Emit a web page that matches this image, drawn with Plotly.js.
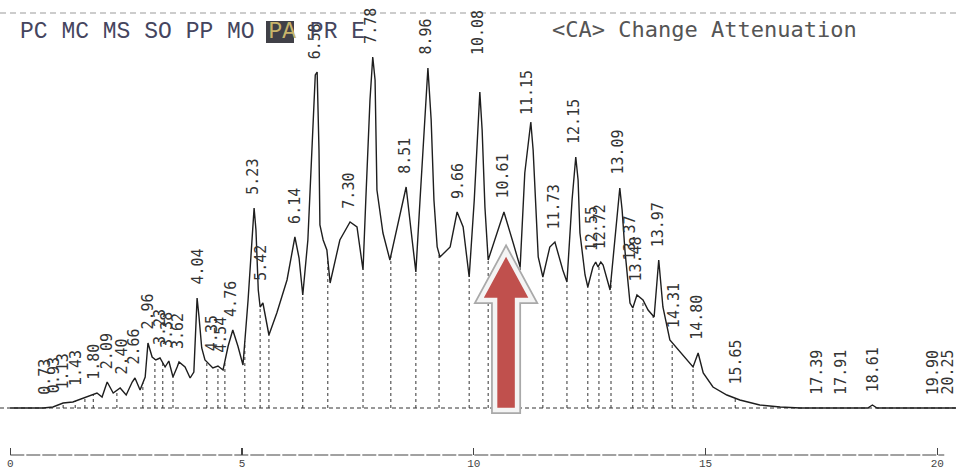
<!DOCTYPE html>
<html><head><meta charset="utf-8">
<script src="https://cdn.plot.ly/plotly-3.0.1.min.js"></script>
<style>html,body{margin:0;padding:0;background:#fff;} #chart{width:956px;height:470px;}</style>
</head><body><div id="chart"></div>
<script>
// ---- data (retention time in minutes, detector signal) ----
const sigTime = [0.00,0.71,0.92,1.14,1.35,1.57,1.72,1.87,1.98,2.09,2.22,2.37,2.50,2.63,2.69,2.80,2.91,2.97,3.06,3.14,3.23,3.34,3.42,3.51,3.60,3.64,3.77,3.88,3.96,
4.03,4.07,4.13,4.20,4.37,4.48,4.59,4.70,4.80,4.91,5.02,5.13,5.22,5.26,5.30,5.35,5.39,5.45,5.58,5.75,5.97,6.14,6.23,6.31,6.42,6.51,6.58,6.62,6.66,6.68,6.75,6.83,6.90,
7.11,7.33,7.48,7.61,7.67,7.76,7.82,7.87,7.91,8.04,8.19,8.41,8.54,8.67,8.75,8.84,8.95,9.01,9.08,9.14,9.21,9.27,9.49,9.64,9.77,9.90,
10.01,10.09,10.13,10.18,10.24,10.31,10.50,10.65,10.85,11.00,11.10,11.19,11.23,11.28,11.32,11.39,11.49,11.64,11.75,11.92,12.01,12.12,12.20,12.25,12.29,12.40,12.46,
12.57,12.63,12.68,12.74,12.79,12.94,13.09,13.15,13.20,13.26,13.37,13.43,13.52,13.65,13.76,13.89,13.99,14.08,14.23,14.38,14.60,14.73,14.84,14.95,15.16,15.46,15.74,
16.17,16.61,17.04,18.50,18.60,18.70,20.40];
const sigValue = [0,0,1,5,6,10,13,15,11,26,15,20,13,26,30,18,31,65,51,48,50,41,47,31,41,46,41,30,36,
110,92,60,48,40,42,38,62,78,62,43,108,178,200,178,118,101,105,73,95,128,171,150,113,168,268,333,336,258,183,168,158,125,
168,186,181,138,208,308,351,328,218,175,148,195,221,168,136,208,288,340,288,208,161,151,161,196,181,131,
208,288,316,278,201,148,175,196,165,141,235,273,286,258,218,151,131,161,166,138,126,208,251,228,175,133,121,
141,146,141,146,143,118,191,220,198,158,105,100,113,108,98,91,148,101,68,60,48,41,55,35,21,13,8,
3,1,0,0,3,0,0];
const peakLabels = ["0.73","0.93","1.13","1.43","1.80","2.09","2.40","2.66","2.96","3.23","3.38","3.62",
"4.04","4.35","4.54","4.76","5.23","5.42","6.14","6.58","7.30","7.78","8.51","8.96","9.66","10.08","10.61",
"11.15","11.73","12.15","12.55","12.72","13.09","13.37","13.48","13.97","14.31","14.80","15.65","17.39","17.91","18.61","19.90","20.25"];
const dropTimes = [1.14,1.40,1.61,1.79,2.30,2.86,3.12,3.29,3.51,4.24,4.48,4.63,5.06,5.39,5.58,6.31,6.85,7.61,8.21,8.75,9.25,9.90,10.31,11.00,
11.49,12.01,12.46,12.70,12.96,13.43,13.65,13.87,14.28,14.73,15.64];
const axisTicks = [0,5,10,15,20];
const headerLeft = 'PC MC MS SO PP MO <span style="color:#c8b46a">PA</span> PR E';
const headerRight = '&lt;CA&gt; Change Attenuation';
const arrowTarget = 10.61;

// ---- helpers ----
const PXU = 46.35, X0PX = 10.3, BASEPX = 408, W = 956;
function interp(t){
  if (t <= sigTime[0]) return sigValue[0];
  for (let i=1;i<sigTime.length;i++){
    if (t <= sigTime[i]){
      const f=(t-sigTime[i-1])/(sigTime[i]-sigTime[i-1]);
      return sigValue[i-1]+f*(sigValue[i]-sigValue[i-1]);
    }
  }
  return sigValue[sigValue.length-1];
}
function localMax(t,w){
  let m=Math.max(interp(t-w),interp(t+w),interp(t));
  for (let i=0;i<sigTime.length;i++) if (sigTime[i]>=t-w && sigTime[i]<=t+w) m=Math.max(m,sigValue[i]);
  return m;
}

// ---- traces ----
const dx=[], dy=[];
dropTimes.forEach(t=>{dx.push(t,t,null); dy.push(0,interp(t),null);});
const traces = [
  {x:dx, y:dy, mode:'lines', line:{color:'#333', width:1, dash:'dot'}, hoverinfo:'skip'},
  {x:sigTime, y:sigValue, mode:'lines', line:{color:'#1e1e1e', width:1.4}, hoverinfo:'skip'}
];

// ---- annotations ----
const labelLift = {"10.08":24};
const annotations = peakLabels.map(s=>{
  const t=parseFloat(s);
  const px = X0PX + t*PXU;
  const overflow = Math.max(0, px + 9 - W);
  return {x:t, y:localMax(t,0.06)+11+(labelLift[s]||0), xref:'x', yref:'y', text:s, textangle:-90,
    showarrow:false, xanchor:'center', yanchor:'bottom', xshift:-overflow,
    font:{family:'DejaVu Sans Mono', size:15, color:'#333'}};
});
annotations.push({xref:'paper', yref:'paper', x:18/956, y:1-32/455, xanchor:'left', yanchor:'middle', text:headerLeft,
  showarrow:false, font:{family:'Liberation Mono', size:23, color:'#45455e'}});
annotations.push({xref:'paper', yref:'paper', x:550/956, y:1-30/455, xanchor:'left', yanchor:'middle', text:headerRight,
  showarrow:false, font:{family:'DejaVu Sans Mono', size:22, color:'#555'}});

// ---- arrow shape (pointing at the 10.61 peak) ----
function arrowPath(){
  const cx = arrowTarget + 4/PXU;
  const u = v => v/PXU;
  const tipY = BASEPX-252, headY = BASEPX-300, botY = BASEPX-410;
  const pts = [[cx,tipY],[cx+u(26),headY],[cx+u(11),headY],[cx+u(11),botY],[cx-u(11),botY],[cx-u(11),headY],[cx-u(26),headY]];
  return 'M'+pts.map(p=>p[0].toFixed(4)+','+p[1].toFixed(2)).join(' L')+' Z';
}
const shapes = [
  {type:'line', xref:'paper', yref:'y', x0:0, x1:1, y0:0, y1:0, line:{color:'#333', width:1, dash:'4px,3px'}, layer:'below'},
  {type:'line', xref:'x', yref:'paper', x0:0, x1:20.15, y0:0, y1:0, line:{color:'#444', width:1.2, dash:'14px,2px'}},
  {type:'line', xref:'paper', yref:'paper', x0:0, x1:1, y0:1-13/455, y1:1-13/455, line:{color:'#999', width:1, dash:'6px,4px'}},
  {type:'rect', xref:'paper', yref:'paper', x0:266/956, x1:294/956, y0:1-43/455, y1:1-21/455, fillcolor:'#2b2b33', line:{width:0}, opacity:0.9},
  {type:'path', xref:'x', yref:'y', path:arrowPath(), fillcolor:'#c0504d', line:{color:'#a9a9a9', width:8}},
  {type:'path', xref:'x', yref:'y', path:arrowPath(), fillcolor:'#c0504d', line:{color:'#f4f4f4', width:4.5}}
];

const layout = {
  width:956, height:470, margin:{l:0,r:0,t:0,b:15,pad:0},
  paper_bgcolor:'#ffffff', plot_bgcolor:'#ffffff', showlegend:false,
  xaxis:{range:[-X0PX/PXU,(W-X0PX)/PXU], showgrid:false, zeroline:false, showline:false,
    tickvals:axisTicks, ticktext:axisTicks.map(String), ticks:'inside', ticklen:7, tickwidth:1.2, tickcolor:'#444',
    tickfont:{family:'Liberation Mono', size:11, color:'#444'}, fixedrange:true},
  yaxis:{range:[-(455-BASEPX), BASEPX], visible:false, fixedrange:true},
  annotations:annotations, shapes:shapes
};
Plotly.newPlot('chart', traces, layout, {displayModeBar:false, staticPlot:true});
</script></body></html>
